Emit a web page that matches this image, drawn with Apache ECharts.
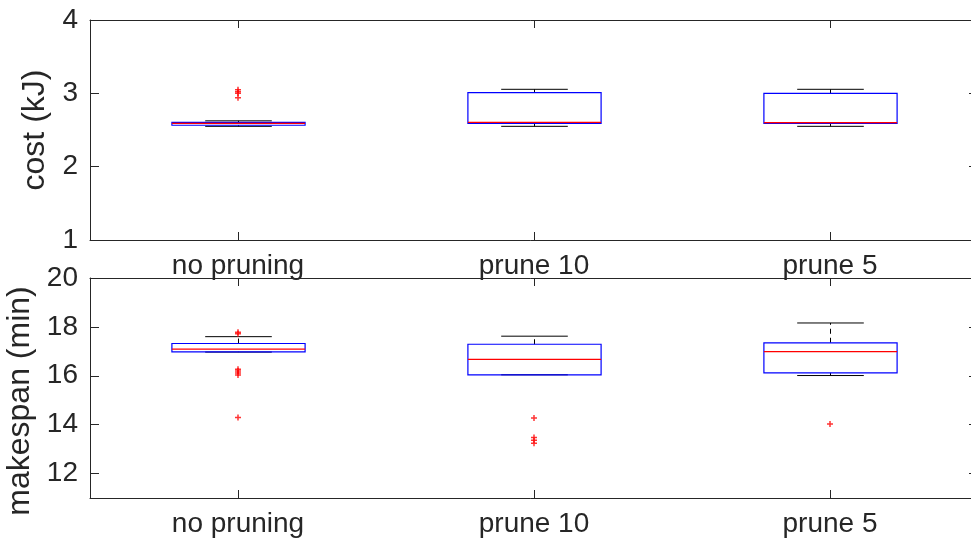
<!DOCTYPE html>
<html>
<head>
<meta charset="utf-8">
<script src="https://cdn.jsdelivr.net/npm/echarts@6/dist/echarts.min.js"></script>
<style>
  html, body { margin: 0; padding: 0; background: #fff; }
  #main { width: 971px; height: 539px; }
</style>
</head>
<body>
<div id="main"></div>
<script>
// categories
var categories = ['no pruning', 'prune 10', 'prune 5'];

// box stats: [low whisker, q1, median, q3, high whisker]
var costStats = [
  [2.55, 2.565, 2.59, 2.605, 2.625],
  [2.55, 2.59, 2.605, 3.01, 3.055],
  [2.55, 2.59, 2.60, 3.00, 3.055]
];
var makespanStats = [
  [16.97, 16.98, 17.09, 17.32, 17.60],
  [16.04, 16.04, 16.67, 17.29, 17.62],
  [16.01, 16.12, 16.99, 17.35, 18.16]
];

// outliers per category
var costOutliers = [
  [3.05, 3.02, 3.00, 2.94],
  [],
  []
];
var makespanOutliers = [
  [17.78, 17.72, 16.27, 16.20, 16.11, 16.03, 14.29],
  [14.27, 13.48, 13.36, 13.24],
  [14.03]
];

// tick labels
var costTicks = [1, 2, 3, 4];
var makespanTicks = [12, 14, 16, 18, 20];

var axisColor = '#262626';
var fontFamily = '"Liberation Sans", Arial, sans-serif';

var myChart = echarts.init(document.getElementById('main'));

// 把统计值变成 custom series 的数据
function boxData(stats) {
  return stats.map(function (s, i) {
    return [i].concat(s);
  });
}

function outlierData(outs) {
  var res = [];
  outs.forEach(function (list, i) {
    list.forEach(function (v) {
      res.push([categories[i], v]);
    });
  });
  return res;
}

// MATLAB 风格的箱线图：蓝色箱体，红色中位线，黑色虚线须
function renderBox(params, api) {
  var idx = api.value(0);
  var lo = api.coord([idx, api.value(1)]);
  var q1 = api.coord([idx, api.value(2)]);
  var med = api.coord([idx, api.value(3)]);
  var q3 = api.coord([idx, api.value(4)]);
  var hi = api.coord([idx, api.value(5)]);
  var band = api.size([1, 0])[0];
  var x = Math.round(q1[0]) + 0.5;
  var bw = band * 0.45;
  var cw = band * 0.225;
  var dash = { stroke: '#000', lineWidth: 1, lineDash: [5, 4] };
  var solid = { stroke: '#000', lineWidth: 1 };
  return {
    type: 'group',
    children: [
      { type: 'line', shape: { x1: x, y1: q3[1], x2: x, y2: hi[1] }, style: dash },
      { type: 'line', shape: { x1: x, y1: q1[1], x2: x, y2: lo[1] }, style: dash },
      { type: 'line', shape: { x1: x - cw / 2, y1: hi[1], x2: x + cw / 2, y2: hi[1] }, style: solid },
      { type: 'line', shape: { x1: x - cw / 2, y1: lo[1], x2: x + cw / 2, y2: lo[1] }, style: solid },
      {
        type: 'rect',
        shape: { x: x - bw / 2, y: q3[1], width: bw, height: q1[1] - q3[1] },
        style: { fill: 'none', stroke: '#0000ff', lineWidth: 1.2 }
      },
      {
        type: 'line',
        shape: { x1: x - bw / 2, y1: med[1], x2: x + bw / 2, y2: med[1] },
        style: { stroke: '#ff0000', lineWidth: 1.2 }
      }
    ]
  };
}

var plusSymbol = 'path://M3,0H5V3H8V5H5V8H3V5H0V3H3Z';

function xAxes(gridIndex) {
  return [
    {
      type: 'category',
      gridIndex: gridIndex,
      data: categories,
      boundaryGap: true,
      axisLine: { show: true, lineStyle: { color: axisColor } },
      axisTick: { show: true, inside: true, alignWithLabel: true, length: 8, lineStyle: { color: axisColor } },
      axisLabel: { color: axisColor, fontSize: 28, fontFamily: fontFamily, margin: 12 },
      splitLine: { show: false }
    },
    {
      type: 'category',
      gridIndex: gridIndex,
      position: 'top',
      data: categories,
      boundaryGap: true,
      axisLine: { show: true, lineStyle: { color: axisColor } },
      axisTick: { show: true, inside: true, alignWithLabel: true, length: 8, lineStyle: { color: axisColor } },
      axisLabel: { show: false },
      splitLine: { show: false }
    }
  ];
}

function yAxes(gridIndex, min, max, ticks, name, nameGap, namePad) {
  return [
    {
      type: 'value',
      gridIndex: gridIndex,
      min: min,
      max: max,
      name: name,
      nameLocation: 'middle',
      nameGap: nameGap,
      nameTextStyle: { color: axisColor, fontSize: 32, fontFamily: fontFamily, padding: namePad },
      axisLine: { show: true, lineStyle: { color: axisColor } },
      axisTick: { show: true, inside: true, length: 9, customValues: ticks, lineStyle: { color: axisColor } },
      axisLabel: { color: axisColor, fontSize: 28, fontFamily: fontFamily, margin: 12, customValues: ticks },
      splitLine: { show: false }
    },
    {
      type: 'value',
      gridIndex: gridIndex,
      position: 'right',
      min: min,
      max: max,
      axisLine: { show: true, lineStyle: { color: axisColor } },
      axisTick: { show: true, inside: true, length: 9, customValues: ticks, lineStyle: { color: axisColor } },
      axisLabel: { show: false },
      splitLine: { show: false }
    }
  ];
}

var option = {
  animation: false,
  backgroundColor: '#fff',
  grid: [
    { left: 90, width: 888, top: 20, height: 220, outerBoundsMode: 'none', containLabel: false },
    { left: 90, width: 888, top: 278, height: 220, outerBoundsMode: 'none', containLabel: false }
  ],
  xAxis: xAxes(0).concat(xAxes(1)),
  yAxis: yAxes(0, 1, 4, costTicks, 'cost (kJ)', 30, [0, 0, 0, 0])
    .concat(yAxes(1, 11, 20, makespanTicks, 'makespan (min)', 48, [0, 26, 0, 0])),
  series: [
    {
      type: 'custom',
      xAxisIndex: 0,
      yAxisIndex: 0,
      renderItem: renderBox,
      encode: { x: 0, y: [1, 2, 3, 4, 5] },
      data: boxData(costStats)
    },
    {
      type: 'scatter',
      xAxisIndex: 0,
      yAxisIndex: 0,
      symbol: plusSymbol,
      symbolSize: 6,
      itemStyle: { color: '#ff0000' },
      data: outlierData(costOutliers)
    },
    {
      type: 'custom',
      xAxisIndex: 2,
      yAxisIndex: 2,
      renderItem: renderBox,
      encode: { x: 0, y: [1, 2, 3, 4, 5] },
      data: boxData(makespanStats)
    },
    {
      type: 'scatter',
      xAxisIndex: 2,
      yAxisIndex: 2,
      symbol: plusSymbol,
      symbolSize: 6,
      itemStyle: { color: '#ff0000' },
      data: outlierData(makespanOutliers)
    }
  ]
};

myChart.setOption(option);
</script>
</body>
</html>
